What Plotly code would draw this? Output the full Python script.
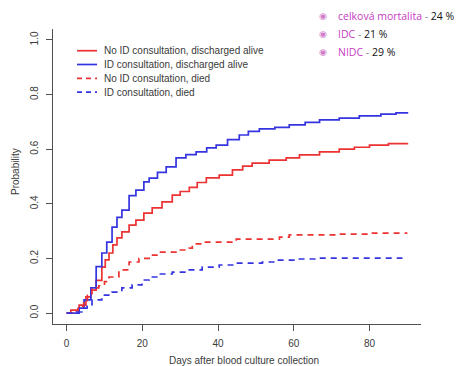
import plotly.graph_objects as go

# ---- data ----
id_alive_x = [0, 2.7, 3.3, 4.6, 6.4, 7.8, 9.3, 10.6, 12, 13.3, 14.6, 16.5, 18.3, 20.4, 21.8, 24, 26.3, 28.9,
              31.5, 34.2, 37, 39.5, 42.5, 45.6, 48, 50.9, 55, 58.8, 63, 66.8, 72, 77.3, 83, 87, 90]
id_alive_y = [0, 0, 0.018, 0.048, 0.092, 0.17, 0.22, 0.26, 0.315, 0.35, 0.377, 0.43, 0.45, 0.48, 0.494, 0.515,
              0.535, 0.568, 0.58, 0.59, 0.605, 0.615, 0.635, 0.652, 0.665, 0.674, 0.68, 0.689, 0.698, 0.707,
              0.714, 0.722, 0.728, 0.733, 0.736]

noid_alive_x = [0, 1.1, 3.3, 5.1, 6.4, 7.8, 9.3, 10.2, 11.2, 12.2, 13.3, 14.6, 16.5, 18.3, 20.4, 22.6, 25.2,
                27.9, 30, 32.4, 34.5, 36.9, 40.3, 43.8, 46.5, 49, 53.5, 58, 61.5, 66.8, 72, 76, 80, 85, 90]
noid_alive_y = [0, 0.011, 0.029, 0.059, 0.084, 0.12, 0.168, 0.195, 0.22, 0.25, 0.275, 0.297, 0.322, 0.34,
                0.366, 0.385, 0.407, 0.432, 0.445, 0.46, 0.478, 0.495, 0.505, 0.524, 0.538, 0.549, 0.56,
                0.568, 0.579, 0.59, 0.6, 0.607, 0.615, 0.62, 0.623]

noid_died_x = [0, 1.5, 3, 4.5, 5.5, 6.7, 8.5, 10, 11.2, 13.8, 16.5, 19.1, 21.8, 24.4, 29.8, 32.4, 33.2,
               35.8, 44.8, 56.2, 58.8, 71.2, 80, 90]
noid_died_y = [0, 0.008, 0.025, 0.045, 0.065, 0.092, 0.1, 0.115, 0.132, 0.158, 0.187, 0.2, 0.212, 0.223,
               0.231, 0.238, 0.253, 0.26, 0.271, 0.278, 0.286, 0.289, 0.293, 0.293]

id_died_x = [0, 2.7, 4.0, 5.4, 6.7, 9.3, 12, 14.6, 17.3, 19.9, 21.8, 24.4, 27.9, 31.6, 35.8, 40.3, 44.8,
             51.7, 55.4, 60.7, 66.8, 80, 88.7]
id_died_y = [0, 0.004, 0.018, 0.03, 0.048, 0.066, 0.077, 0.092, 0.103, 0.121, 0.132, 0.143, 0.15, 0.158,
             0.168, 0.176, 0.183, 0.187, 0.194, 0.198, 0.201, 0.201, 0.201]

series_names = ["No ID consultation, discharged alive", "ID consultation, discharged alive",
                "No ID consultation, died", "ID consultation, died"]

x_ticks = [0, 20, 40, 60, 80]
y_ticks = [0, 0.2, 0.4, 0.6, 0.8, 1.0]
y_ticktext = ["0.0", "0.2", "0.4", "0.6", "0.8", "1.0"]

side_labels = ["celková mortalita", "IDC", "NIDC"]
side_values = ["24 %", "21 %", "29 %"]

RED = "#ec3232"
BLUE = "#3434e0"
FONT = "Liberation Sans, Arial, sans-serif"
TXT = "#3a3a3a"
AX = "#505050"

# the page body has an 8px margin, so the figure is made 8px smaller and shifted
OFF = 8
W, H = 462 - OFF, 366 - OFF
L, R, T, B = 53 - OFF, 41, 29 - OFF, 42
PW, PH = W - L - R, H - T - B


def px_x(px):  # window pixel -> paper x
    return (px - OFF - L) / PW


def px_y(py):  # window pixel -> paper y
    return (H - B - (py - OFF)) / PH


series = [
    (noid_alive_x, noid_alive_y, RED, "solid"),
    (id_alive_x, id_alive_y, BLUE, "solid"),
    (noid_died_x, noid_died_y, RED, "6px,5px"),
    (id_died_x, id_died_y, BLUE, "6px,5px"),
]

fig = go.Figure()
for (xs, ys, col, dash), name in zip(series, series_names):
    fig.add_trace(go.Scatter(x=xs, y=ys, mode="lines", name=name,
                             line=dict(color=col, width=1.7, dash=dash, shape="hv"),
                             showlegend=False))

# manual legend (R-style compact legend)
shapes = []
annotations = []
leg_y0, leg_dy = 50.7, 13.8
for i, ((xs, ys, col, dash), name) in enumerate(zip(series, series_names)):
    py = leg_y0 + i * leg_dy
    shapes.append(dict(type="line", xref="paper", yref="paper",
                       x0=px_x(77), x1=px_x(97), y0=px_y(py), y1=px_y(py),
                       line=dict(color=col, width=1.7, dash="5px,4px" if dash != "solid" else "solid")))
    annotations.append(dict(text=name, xref="paper", yref="paper",
                            x=px_x(102), y=px_y(py),
                            xanchor="left", yanchor="middle", showarrow=False,
                            font=dict(family=FONT, size=10, color=TXT)))

# side text (slide bullets)
rows_y = [16, 34, 52]
for lab, val, py in zip(side_labels, side_values, rows_y):
    annotations.append(dict(text="◉", xref="paper", yref="paper",
                            x=px_x(323), y=px_y(py), xanchor="center", yanchor="middle",
                            showarrow=False, font=dict(family="DejaVu Sans", size=9, color="#d27ccb")))
    annotations.append(dict(
        text=f"<span style='color:#c63bc3'>{lab}</span><span style='color:#888888'> - </span>"
             f"<span style='color:#111111'>{val}</span>",
        xref="paper", yref="paper", x=px_x(336), y=px_y(py),
        xanchor="left", yanchor="middle", showarrow=False,
        font=dict(family="Open Sans, sans-serif", size=10.5, color="#c63bc3")))

# axis titles placed as annotations for exact placement
annotations.append(dict(text="Days after blood culture collection", xref="paper", yref="paper",
                        x=px_x(244), y=px_y(360), xanchor="center", yanchor="middle", showarrow=False,
                        font=dict(family=FONT, size=10, color=TXT)))
annotations.append(dict(text="Probability", xref="paper", yref="paper", textangle=-90,
                        x=px_x(15), y=px_y(172), xanchor="center", yanchor="middle", showarrow=False,
                        font=dict(family=FONT, size=10, color=TXT)))

fig.update_layout(
    width=W, height=H,
    margin=dict(l=L, r=R, t=T, b=B, autoexpand=False),
    plot_bgcolor="white", paper_bgcolor="white",
    font=dict(family=FONT, size=10, color=TXT),
    shapes=shapes,
    annotations=annotations,
    xaxis=dict(range=[-3.6, 93.6], tickvals=x_ticks, showgrid=False, zeroline=False, automargin=False,
               showline=True, linecolor=AX, linewidth=1, ticks="outside", ticklen=6, tickcolor=AX,
               ticklabelstandoff=4, tickfont=dict(size=10, color=TXT)),
    yaxis=dict(range=[-0.04, 1.04], tickvals=y_ticks, ticktext=y_ticktext, tickangle=-90,
               showgrid=False, zeroline=False, automargin=False,
               showline=True, linecolor=AX, linewidth=1, ticks="outside", ticklen=6, tickcolor=AX,
               ticklabelstandoff=4, tickfont=dict(size=10, color=TXT)),
)

fig.write_html("out.html")
